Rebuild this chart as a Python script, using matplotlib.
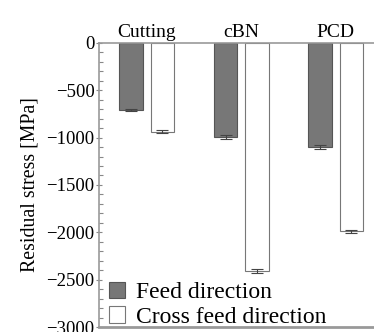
import matplotlib
matplotlib.use('Agg')
import matplotlib.pyplot as plt
from matplotlib.ticker import MultipleLocator
import numpy as np

# data
categories = ['Cutting', 'cBN', 'PCD']
feed_vals = [-710, -995, -1100]
feed_err = [10, 20, 25]
cross_vals = [-940, -2410, -1990]
cross_err = [15, 25, 18]

plt.rcParams['font.family'] = ['Liberation Serif', 'DejaVu Serif']

fig = plt.figure(figsize=(3.74, 3.32), dpi=100)
ax = fig.add_axes([0.266, 0.015, 0.758, 0.856])

x = np.arange(len(categories))
w = 0.25
off = 0.165
ax.bar(x - off, feed_vals, w, color='#777777', edgecolor='#555555', linewidth=0.8,
       yerr=feed_err, capsize=4, error_kw=dict(ecolor='#444444', elinewidth=0.8, capthick=0.8),
       label='Feed direction')
ax.bar(x + off, cross_vals, w, color='white', edgecolor='#777777', linewidth=0.8,
       yerr=cross_err, capsize=4, error_kw=dict(ecolor='#444444', elinewidth=0.8, capthick=0.8),
       label='Cross feed direction')

ax.set_xlim(-0.5, 2.5)
ax.set_ylim(-3000, 0)
ax.yaxis.set_major_locator(MultipleLocator(500))
ax.yaxis.set_minor_locator(MultipleLocator(100))
ax.tick_params(axis='y', which='major', direction='inout', length=5, width=0.8,
               color='#888888', labelsize=13.5, pad=1)
ax.tick_params(axis='y', which='minor', direction='in', length=3, width=0.8, color='#888888')
ax.yaxis.set_major_formatter(plt.FuncFormatter(lambda v, p: f'{int(v)}'.replace('-', '\u2212')))

ax.xaxis.tick_top()
ax.set_xticks(x)
ax.set_xticklabels(categories)
ax.tick_params(axis='x', length=0, labelsize=14, pad=1)

for s in ['top', 'left']:
    ax.spines[s].set_color('#999999')
    ax.spines[s].set_linewidth(1.2)
ax.spines['bottom'].set_color('#999999')
ax.spines['bottom'].set_linewidth(2)
ax.spines['right'].set_visible(False)

ax.set_ylabel('Residual stress [MPa]', fontsize=14.3, labelpad=5)

ax.legend(loc='lower left', frameon=False, fontsize=17, handlelength=0.7, handleheight=0.7,
          handletextpad=0.45, labelspacing=0.12, borderaxespad=0.0,
          bbox_to_anchor=(0.0, -0.035))

fig.savefig('out.png', dpi=100)
